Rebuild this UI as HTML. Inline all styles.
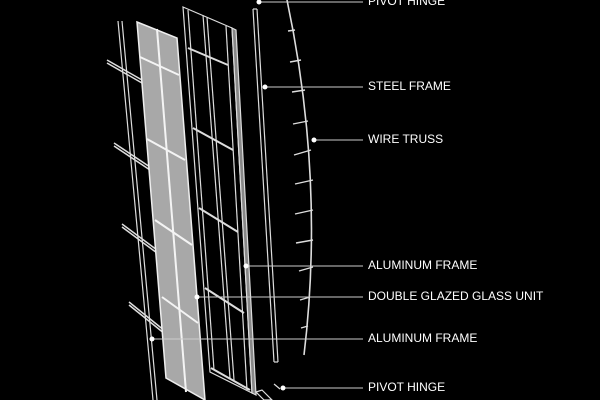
<!DOCTYPE html>
<html><head><style>body{margin:0;background:#000}svg{display:block}</style></head><body>
<svg width="600" height="400" viewBox="0 0 600 400" xmlns="http://www.w3.org/2000/svg">
<rect width="600" height="400" fill="#000"/>
<g stroke="#ddd" fill="none" stroke-width="1.2">
<!-- left thin frame -->
<line x1="118" y1="21" x2="153" y2="400"/><line x1="122" y1="21" x2="157" y2="400"/>
<g stroke-width="1.5">
<line x1="107" y1="60" x2="142" y2="80"/><line x1="107" y1="63" x2="142" y2="83"/>
<line x1="114" y1="143" x2="150" y2="167"/><line x1="114" y1="146" x2="150" y2="170"/>
<line x1="122" y1="224" x2="157" y2="250"/><line x1="122" y1="227" x2="157" y2="253"/>
<line x1="129" y1="302" x2="165" y2="331"/><line x1="129" y1="305" x2="165" y2="334"/>
</g>
</g>
<!-- glass panel -->
<polygon points="137,22 177,38 205,400 166,378" fill="#a8a8a8" stroke="#eee" stroke-width="1.5"/>
<g stroke="#f4f4f4" stroke-width="2">
<line x1="157" y1="29" x2="186" y2="392"/>
<line x1="140" y1="57" x2="179" y2="75"/>
<line x1="147" y1="139" x2="185" y2="160"/>
<line x1="155" y1="220" x2="192" y2="245"/>
<line x1="162" y1="297" x2="198" y2="323"/>
</g>
<!-- aluminium frame -->
<g stroke="#ddd" fill="none" stroke-width="1.2">
<polygon points="183,7 232,28 252,393 210,372"/>
<line x1="188" y1="10" x2="214" y2="370"/>
<line x1="203" y1="15" x2="230" y2="378"/><line x1="207" y1="17" x2="234" y2="380"/>
<line x1="226" y1="26" x2="247" y2="390"/>
<polygon points="232,28 236,30 256,395 252,393" fill="#888"/>
<g stroke-width="2">
<line x1="188" y1="48" x2="228" y2="65"/>
<line x1="193" y1="128" x2="233" y2="150"/>
<line x1="199" y1="208" x2="238" y2="232"/>
<line x1="205" y1="288" x2="244" y2="313"/>
<line x1="211" y1="368" x2="250" y2="390"/>
</g>
<!-- steel frame -->
<line x1="253" y1="9" x2="274" y2="362"/><line x1="257" y1="9" x2="278" y2="362"/>
<line x1="253" y1="9" x2="257" y2="9"/><line x1="274" y1="362" x2="278" y2="362"/>
<!-- wire truss -->
<path d="M287,0 Q325,180 304,355" stroke-width="1.6"/>
<g stroke-width="1.4">
<line x1="288" y1="31" x2="295" y2="30"/>
<line x1="290" y1="62" x2="301" y2="60"/>
<line x1="292" y1="92" x2="305" y2="90"/>
<line x1="293" y1="124" x2="308" y2="121"/>
<line x1="294" y1="155" x2="311" y2="150"/>
<line x1="295" y1="184" x2="313" y2="180"/>
<line x1="295" y1="214" x2="313" y2="210"/>
<line x1="296" y1="243" x2="313" y2="240"/>
<line x1="299" y1="271" x2="313" y2="267"/>
<line x1="300" y1="300" x2="310" y2="297"/>
<line x1="301" y1="328" x2="308" y2="326"/>
</g>
<!-- pivot hinge bottom -->
<line x1="274" y1="384" x2="280" y2="389"/>
<polygon points="256,392 262,390 272,400 264,400"/>
</g>
<!-- leader lines -->
<g stroke="#ccc" stroke-width="1">
<line x1="259" y1="2" x2="363" y2="2"/>
<line x1="265" y1="87" x2="363" y2="87"/>
<line x1="314" y1="140" x2="363" y2="140"/>
<line x1="246" y1="266" x2="363" y2="266"/>
<line x1="197" y1="297" x2="363" y2="297"/>
<line x1="152" y1="339" x2="363" y2="339"/>
<line x1="283" y1="388" x2="363" y2="388"/>
</g>
<g fill="#fff">
<circle cx="259" cy="2" r="2.5"/><circle cx="265" cy="87" r="2.5"/><circle cx="314" cy="140" r="2.5"/>
<circle cx="246" cy="266" r="2.5"/><circle cx="197" cy="297" r="2.5"/><circle cx="152" cy="339" r="2.5"/><circle cx="283" cy="388" r="2.5"/>
</g>
<g fill="#fff" font-family="Liberation Sans, sans-serif" font-size="12">
<text x="368" y="5">PIVOT HINGE</text>
<text x="368" y="90">STEEL FRAME</text>
<text x="368" y="143">WIRE TRUSS</text>
<text x="368" y="269">ALUMINUM FRAME</text>
<text x="368" y="300">DOUBLE GLAZED GLASS UNIT</text>
<text x="368" y="342">ALUMINUM FRAME</text>
<text x="368" y="391">PIVOT HINGE</text>
</g>
</svg>
</body></html>
